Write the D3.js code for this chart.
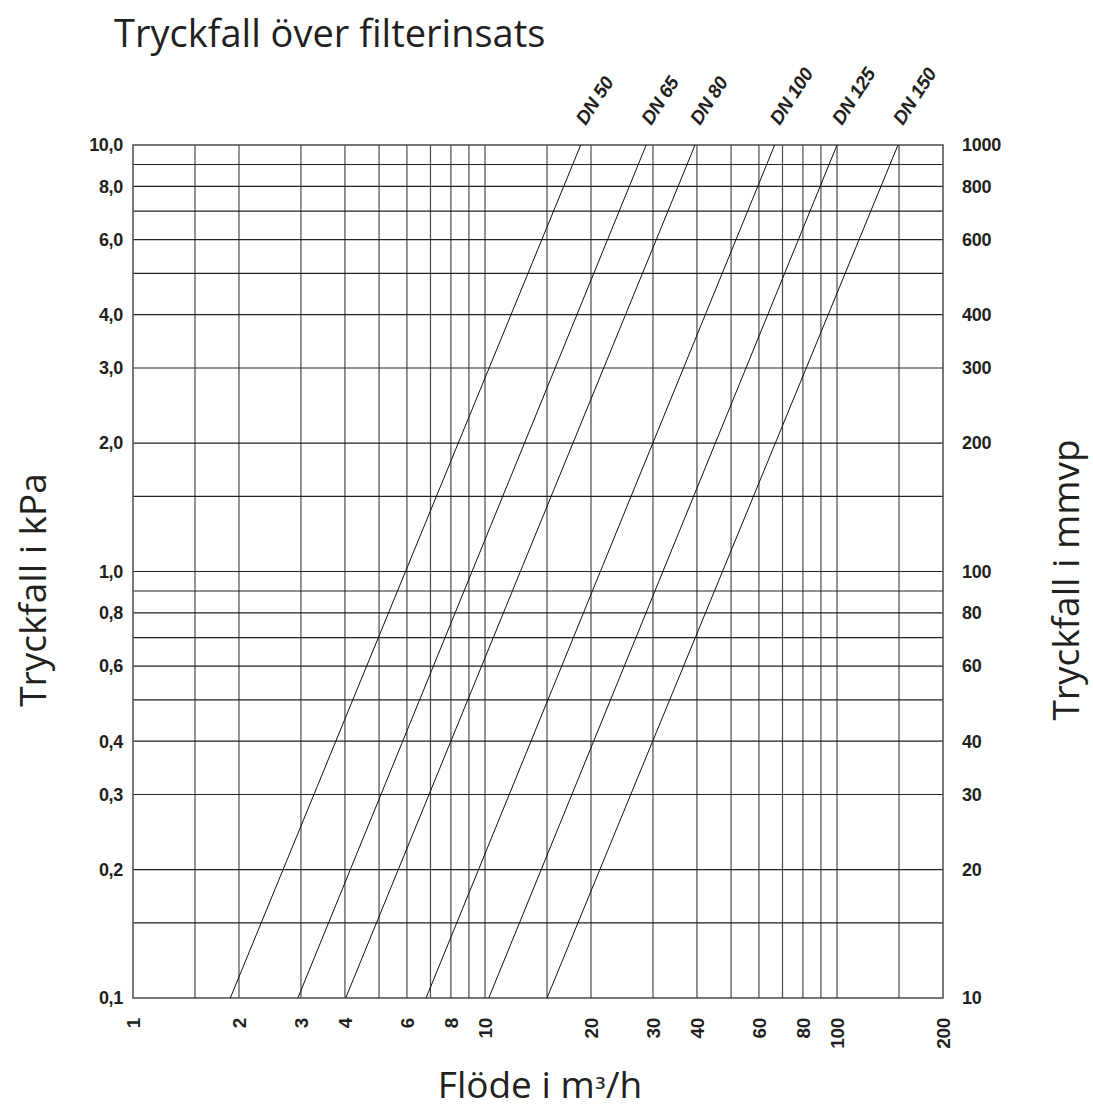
<!DOCTYPE html>
<html lang="sv">
<head>
  <meta charset="UTF-8" />
  <title>Tryckfall över filterinsats</title>
  <script src="https://d3js.org/d3.v7.min.js"></script>
  <style>
    body { margin: 0; background: #fff; }
    .title { font-family: "Open Sans", sans-serif; fill: #231f20; }
    .tick-label { font-family: "Liberation Sans", Arial, sans-serif; font-weight: bold; font-size: 18px; fill: #231f20; letter-spacing: -0.3px; }
    .dn-label { font-family: "Liberation Sans", Arial, sans-serif; font-weight: bold; font-style: italic; font-size: 19px; fill: #231f20; letter-spacing: -0.3px; }
  </style>
</head>
<body>
  <svg width="1093" height="1113"></svg>

  <script>
    // flow axis (m³/h)
    const flowTicks = [1, 2, 3, 4, 6, 8, 10, 20, 30, 40, 60, 80, 100, 200];
    const flowGrid = [1.5, 2, 3, 4, 5, 6, 7, 8, 9, 10, 15, 20, 30, 40, 50, 60, 70, 80, 90, 100, 150];
    // pressure axis (kPa, left) and mmvp (right)
    const kpaTicks = [10, 8, 6, 4, 3, 2, 1, 0.8, 0.6, 0.4, 0.3, 0.2, 0.1];
    const kpaGrid = [0.15, 0.2, 0.3, 0.4, 0.5, 0.6, 0.7, 0.8, 0.9, 1, 1.5, 2, 3, 4, 5, 6, 7, 8, 9];
    const mmvpTicks = [1000, 800, 600, 400, 300, 200, 100, 80, 60, 40, 30, 20, 10];

    // filter sizes: flow at 0,1 kPa and at 10 kPa
    const dnNames = ["DN 50", "DN 65", "DN 80", "DN 100", "DN 125", "DN 150"];
    const dnFlowLow = [1.89, 2.94, 4.02, 6.8, 10.25, 15];
    const dnFlowHigh = [18.7, 28.7, 39.5, 66.5, 100, 149];
    const dnKpa = [0.1, 10];

    const svg = d3.select("svg");
    const m = { left: 133, right: 943, top: 145, bottom: 998 };

    const x = d3.scaleLog().domain([1, 200]).range([m.left, m.right]);
    const y = d3.scaleLog().domain([0.1, 10]).range([m.bottom, m.top]);
    const y2 = d3.scaleLog().domain([10, 1000]).range([m.bottom, m.top]);

    const sv = d3.formatLocale({ decimal: ",", thousands: " ", grouping: [3], currency: ["", " kr"] });
    const fmtKpa = sv.format(".1f");

    // grid
    const grid = svg.append("g");
    grid.selectAll("line.v")
      .data(flowGrid)
      .join("line")
        .attr("class", "v")
        .attr("x1", d => x(d)).attr("x2", d => x(d))
        .attr("y1", m.top).attr("y2", m.bottom)
        .attr("stroke", "#4a4a4a")
        .attr("stroke-width", 1.2);
    grid.selectAll("line.h")
      .data(kpaGrid)
      .join("line")
        .attr("class", "h")
        .attr("y1", d => y(d)).attr("y2", d => y(d))
        .attr("x1", m.left).attr("x2", m.right)
        .attr("stroke", "#222")
        .attr("stroke-width", 1.2);

    svg.append("rect")
      .attr("x", m.left).attr("y", m.top)
      .attr("width", m.right - m.left).attr("height", m.bottom - m.top)
      .attr("fill", "none")
      .attr("stroke", "#555")
      .attr("stroke-width", 1.6);

    // DN lines
    const line = d3.line().x(d => x(d[0])).y(d => y(d[1]));
    svg.append("g")
      .selectAll("path")
      .data(dnNames.map((n, i) => [[dnFlowLow[i], dnKpa[0]], [dnFlowHigh[i], dnKpa[1]]]))
      .join("path")
        .attr("d", line)
        .attr("fill", "none")
        .attr("stroke", "#111")
        .attr("stroke-width", 1);

    svg.append("g")
      .selectAll("text")
      .data(dnNames)
      .join("text")
        .attr("class", "dn-label")
        .attr("transform", (d, i) => `translate(${x(dnFlowHigh[i]) + 5},${m.top - 19}) rotate(-57)`)
        .text(d => d);

    // left axis labels
    svg.append("g")
      .selectAll("text")
      .data(kpaTicks)
      .join("text")
        .attr("class", "tick-label")
        .attr("x", m.left - 10)
        .attr("y", d => y(d))
        .attr("dy", "0.35em")
        .attr("text-anchor", "end")
        .text(d => fmtKpa(d));

    // right axis labels
    svg.append("g")
      .selectAll("text")
      .data(mmvpTicks)
      .join("text")
        .attr("class", "tick-label")
        .attr("x", m.right + 19)
        .attr("y", d => y2(d))
        .attr("dy", "0.35em")
        .attr("text-anchor", "start")
        .text(d => d);

    // bottom axis labels
    svg.append("g")
      .selectAll("text")
      .data(flowTicks)
      .join("text")
        .attr("class", "tick-label")
        .style("font-size", "19px")
        .attr("transform", d => `translate(${x(d)},${m.bottom + 20}) rotate(-90)`)
        .attr("dy", "0.35em")
        .attr("text-anchor", "end")
        .text(d => d);

    // titles
    svg.append("text")
      .attr("class", "title")
      .attr("x", 114).attr("y", 47)
      .attr("font-size", "38px")
      .text("Tryckfall över filterinsats");

    const xTitle = svg.append("text")
      .attr("class", "title")
      .attr("x", 540).attr("y", 1098)
      .attr("font-size", "37px")
      .attr("text-anchor", "middle");
    xTitle.append("tspan").text("Flöde i m");
    xTitle.append("tspan").attr("font-size", "28px").attr("font-family", "DejaVu Sans").text("³");
    xTitle.append("tspan").text("/h");

    svg.append("text")
      .attr("class", "title")
      .attr("transform", `translate(46,590) rotate(-90)`)
      .attr("font-size", "37px")
      .attr("text-anchor", "middle")
      .text("Tryckfall i kPa");

    svg.append("text")
      .attr("class", "title")
      .attr("transform", `translate(1079,580) rotate(-90)`)
      .attr("font-size", "37px")
      .attr("text-anchor", "middle")
      .text("Tryckfall i mmvp");
  </script>
</body>
</html>
